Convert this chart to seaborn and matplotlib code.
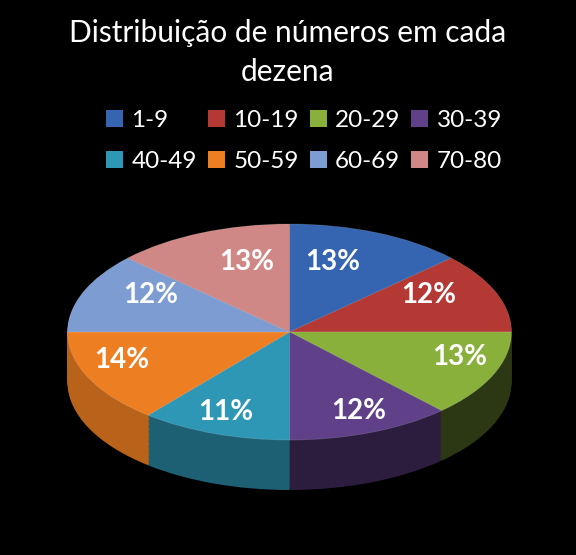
import numpy as np
import seaborn as sns
import matplotlib.pyplot as plt
from matplotlib.patches import Patch
from matplotlib.colors import to_rgb

# dados do gráfico
dezenas = ['1-9', '10-19', '20-29', '30-39', '40-49', '50-59', '60-69', '70-80']
percentuais = [13, 12, 13, 12, 11, 14, 12, 13]
cores = ['#3565B0', '#B43834', '#8AB03C', '#5F4089', '#2E97B6', '#EE7E22', '#7D9DD2', '#D08886']

sns.set_theme(style="dark")
plt.rcParams['font.family'] = ['Lato', 'DejaVu Sans']

fig = plt.figure(figsize=(5.76, 5.55), dpi=100, facecolor='black')

# eixo do pizza: raio horizontal 222 px, vertical 108 px, profundidade 50 px
W, H = 576, 555
rx, ry, depth = 222, 108, 50
cx, cy = 289.5, 332
d = depth / ry
ax = fig.add_axes([(cx - rx) / W, (H - (cy + ry + depth)) / H,
                   2 * rx / W, (2 * ry + depth) / H])
ax.set_facecolor('black')


def escurecer(c, f):
    r, g, b = to_rgb(c)
    return (r * f, g * f, b * f)


# lateral: pilha de pizzas mais escuras
n_camadas = 40
fatores = []
acum = np.cumsum([0] + percentuais[:-1])
for p, a in zip(percentuais, acum):
    meio = np.deg2rad(90 - (a + p / 2) / sum(percentuais) * 360)
    fatores.append(0.55 - 0.25 * np.cos(meio))
cores_lado = [escurecer(c, f) for c, f in zip(cores, fatores)]
for k in range(n_camadas):
    y0 = -d + d * k / n_camadas
    ax.pie(percentuais, colors=cores_lado, startangle=90, counterclock=False,
           center=(0, y0), radius=1, wedgeprops=dict(linewidth=0))

wedges, _ = ax.pie(percentuais, colors=cores, startangle=90, counterclock=False,
                   center=(0, 0), radius=1,
                   wedgeprops=dict(linewidth=0.6, edgecolor=(1, 1, 1, 0.15)))

# rótulos de percentual (posição aproximando a perspectiva do Excel)
for w, p in zip(wedges, percentuais):
    ang = np.deg2rad((w.theta1 + w.theta2) / 2)
    s, c = np.sin(ang), np.cos(ang)
    rl = 0.72 - 0.12 * s - 0.17 * max(s, 0) ** 4 + (0.08 * c ** 2 if s < 0 else 0)
    xl = rl * c
    yl = 0.14 + (0.555 * s if s > 0 else 0.94 * s)
    ax.text(xl, yl, f"{p}%", ha='center', va='center',
            color='white', fontsize=20, fontweight='bold')

ax.set_aspect('auto')
ax.set_xlim(-1, 1)
ax.set_ylim(-1 - d, 1)
ax.axis('off')

fig.text(0.5, 1 - 33 / H, "Distribuição de números em cada", ha='center', va='center',
         color='white', fontsize=21.5)
fig.text(0.5, 1 - 72 / H, "dezena", ha='center', va='center', color='white', fontsize=21.5)

# legenda em linhas (matplotlib preenche por coluna)
ordem = [0, 4, 1, 5, 2, 6, 3, 7]
handles = [Patch(facecolor=cores[i], edgecolor='none') for i in ordem]
fig.legend(handles, [dezenas[i] for i in ordem], ncol=4, loc='center',
           bbox_to_anchor=(0.528, 1 - 141 / H), frameon=False, labelcolor='white',
           fontsize=17.5, handlelength=0.7, handleheight=0.7, handletextpad=0.35,
           columnspacing=0.45, labelspacing=0.85)

fig.savefig('out.png', dpi=100, facecolor='black')
